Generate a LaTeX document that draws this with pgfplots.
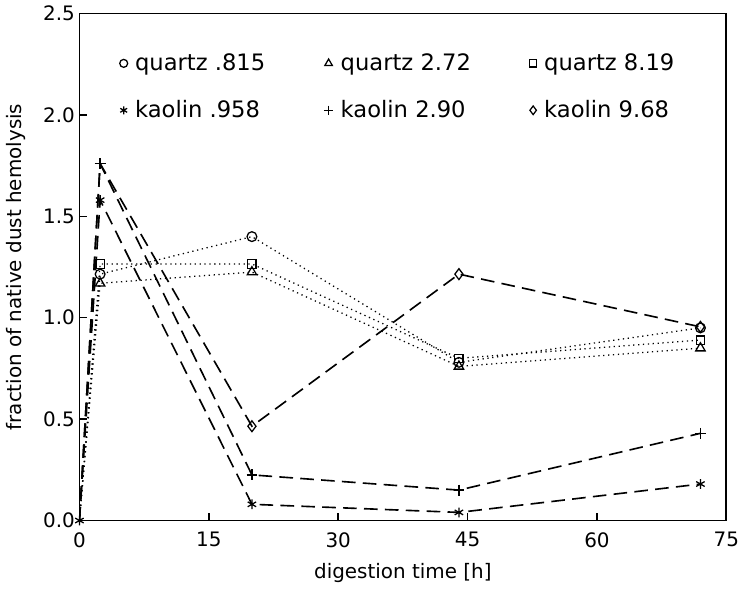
\documentclass[border=0pt]{standalone}
\usepackage{fontspec}
\setmainfont{DejaVu Sans}
\usepackage{pgfplots}
\pgfplotsset{compat=1.18}
\begin{document}
\begin{tikzpicture}
\begin{axis}[
  scale only axis, width=356bp, height=279bp,
  xmin=0, xmax=75, ymin=0, ymax=2.5,
  xtick={0,15,30,45,60,75}, ytick={0,0.5,1,1.5,2,2.5},
  y tick label style={xshift=1bp, /pgf/number format/.cd, fixed, fixed zerofill, precision=1},
  /pgf/number format/assume math mode=true,
  tick pos=left, tick align=inside, major tick length=4bp,
  axis line style={line width=1pt},
  every tick/.style={black, line width=0.8pt},
  tick label style={font=\fontsize{11}{13}\selectfont},
  x tick label style={yshift=-3bp},
  label style={font=\fontsize{11}{13}\selectfont},
  xlabel={digestion time [h]}, ylabel={fraction of native dust hemolysis},
  xlabel style={yshift=-2bp},
  ylabel style={yshift=3bp},
  legend columns=3,
  legend style={at={(axis cs:4.0,2.34)}, anchor=north west, draw=none, fill=none,
    font=\fontsize{12.5}{14}\selectfont, row sep=11bp, cells={anchor=west}},
  legend image code/.code={\draw[#1, only marks] plot coordinates {(0.12cm,0cm)};},
  mark options={solid, line width=0.7pt},
]
\addplot[black, line width=0.7pt, dotted, mark=o, mark size=2.7pt, mark indices={2,3,4,5}, forget plot] coordinates {(0,0) (2.4,1.215) (20,1.40) (44,0.78) (72,0.95)};
\addplot[black, line width=0.7pt, dotted, mark=triangle, mark size=3pt, mark indices={2,3,4,5}, forget plot] coordinates {(0,0) (2.4,1.17) (20,1.225) (44,0.76) (72,0.85)};
\addplot[black, line width=0.7pt, dotted, mark=square, mark size=2.3pt, mark indices={2,3,4,5}, forget plot] coordinates {(0,0) (2.4,1.265) (20,1.265) (44,0.80) (72,0.89)};
\addplot[black, line width=0.9pt, dash pattern=on 7.5bp off 4bp, mark=asterisk, mark size=2.7pt, forget plot] coordinates {(0,0) (2.4,1.58) (20,0.08) (44,0.04) (72,0.18)};
\addplot[black, line width=0.9pt, dash pattern=on 7.5bp off 4bp, mark=+, mark size=3pt, mark indices={2,3,4,5}, forget plot] coordinates {(0,0) (2.4,1.76) (20,0.225) (44,0.15) (72,0.43)};
\addplot[black, line width=0.9pt, dash pattern=on 7.5bp off 4bp, mark=diamond, mark size=3pt, mark indices={3,4,5}, forget plot] coordinates {(0,0) (2.4,1.76) (20,0.465) (44,1.215) (72,0.955)};
\addlegendimage{black, mark=o, mark size=2.2pt}
\addlegendentry{\makebox[104bp][l]{\,quartz .815}}
\addlegendimage{black, mark=triangle, mark size=2.4pt}
\addlegendentry{\makebox[104bp][l]{\,quartz 2.72}}
\addlegendimage{black, mark=square, mark size=2pt}
\addlegendentry{\,quartz 8.19}
\addlegendimage{black, mark=asterisk, mark size=2.2pt}
\addlegendentry{\makebox[104bp][l]{\,kaolin .958}}
\addlegendimage{black, mark=+, mark size=2.6pt}
\addlegendentry{\makebox[104bp][l]{\,kaolin 2.90}}
\addlegendimage{black, mark=diamond, mark size=2.4pt}
\addlegendentry{\,kaolin 9.68}
\end{axis}
\end{tikzpicture}
\end{document}
